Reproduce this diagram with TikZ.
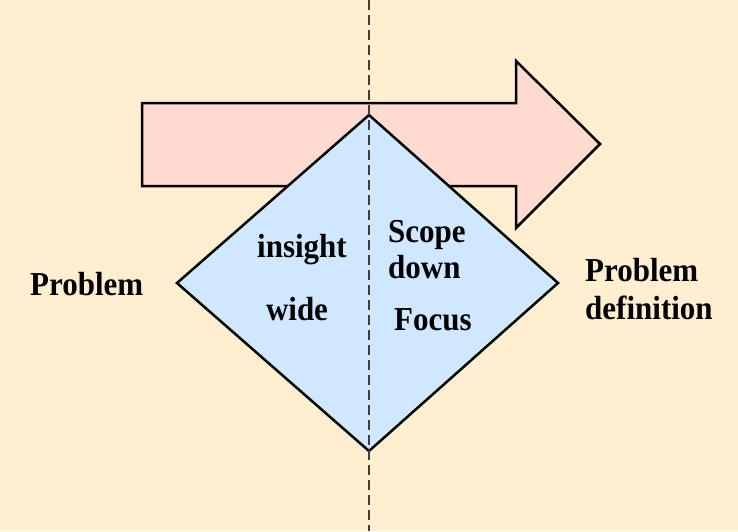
\documentclass[tikz,border=0pt]{standalone}
\usepackage{fontspec}
\setmainfont{Liberation Serif}
\definecolor{bgc}{RGB}{255,239,208}
\definecolor{arrowc}{RGB}{255,218,208}
\definecolor{diamc}{RGB}{208,232,255}
\definecolor{dashc}{RGB}{64,60,56}
\newcommand{\talltext}[1]{\scalebox{1}[1.08]{#1}}
\tikzset{
  arrowshape/.style={fill=arrowc,draw=black,line width=2.5pt,line join=miter},
  diamshape/.style={fill=diamc,draw=black,line width=2.5pt,line join=miter},
  midline/.style={draw=dashc,line width=1.6pt,dash pattern=on 10pt off 5pt},
  lbl/.style={inner sep=0pt,font=\bfseries\fontsize{31}{37}\selectfont,text=black}
}
\begin{document}
\begin{tikzpicture}[x=1pt,y=-1pt]
\fill[bgc] (0,0) rectangle (738,531);
\useasboundingbox (0,0) rectangle (738,531);
\draw[arrowshape] (142,103) -- (516,103) -- (516,61) -- (600,144) -- (516,228) -- (516,186) -- (142,186) -- cycle;
\coordinate (dtop) at (369,115);
\coordinate (dright) at (558,283);
\coordinate (dbottom) at (369,451);
\coordinate (dleft) at (177,283);
\draw[diamshape] (dtop) -- (dright) -- (dbottom) -- (dleft) -- cycle;
\coordinate (ltop) at (369,0);
\coordinate (lbot) at (369,531);
\draw[midline] (ltop) -- (lbot);
\node[lbl,anchor=base west] (prob) at (30,295.5) {\talltext{Problem}};
\node[lbl,anchor=base] (insight) at (302,257) {\talltext{insight}};
\node[lbl,anchor=base] (wide) at (297,320) {\talltext{wide}};
\node[lbl,anchor=base west] (scope) at (388,242) {\talltext{Scope}};
\node[lbl,anchor=base west] (down) at (388,278) {\talltext{down}};
\node[lbl,anchor=base west] (focus) at (394,330) {\talltext{Focus}};
\node[lbl,anchor=base west] (pdef1) at (585,281) {\talltext{Problem}};
\node[lbl,anchor=base west] (pdef2) at (585,319.5) {\talltext{definition}};
\end{tikzpicture}
\end{document}
